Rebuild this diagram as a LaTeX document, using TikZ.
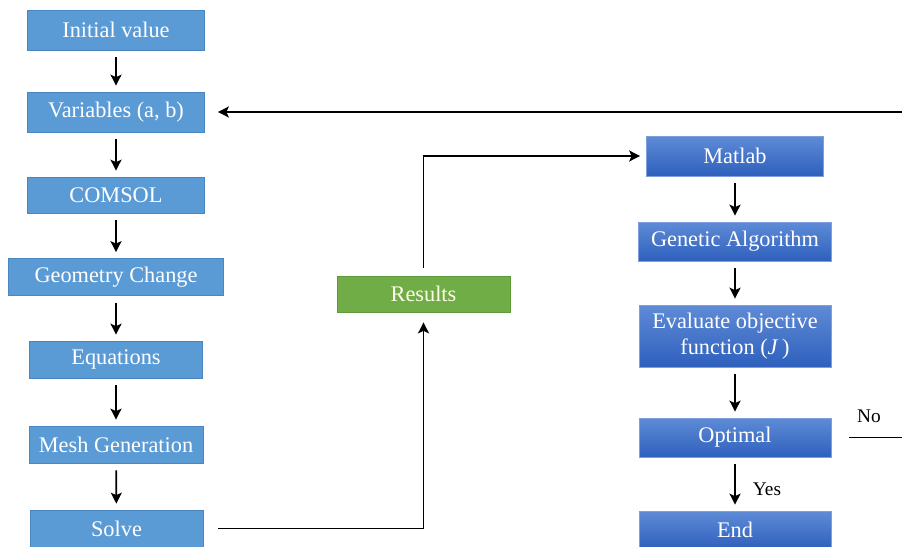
\documentclass[tikz,border=0pt]{standalone}
\usepackage{fontspec}
\setmainfont{Liberation Serif}
\usetikzlibrary{arrows.meta}
\definecolor{StepBlue}{HTML}{5B9BD5}
\definecolor{StepEdge}{HTML}{4A86C0}
\definecolor{OptTop}{HTML}{5F8BD6}
\definecolor{OptBot}{HTML}{2E60BD}
\definecolor{OptEdge}{HTML}{7D9FDC}
\definecolor{ResGreen}{HTML}{70AD47}
\definecolor{ResEdge}{HTML}{5F9A3A}

\begin{document}
\begin{tikzpicture}[font=\fontsize{12.7}{14.7}\selectfont,
  cbox/.style={draw=StepEdge, fill=StepBlue, text=white, inner sep=1pt,
               minimum width=35.4mm, minimum height=7.4mm, align=center},
  mbox/.style={draw=OptEdge, top color=OptTop, bottom color=OptBot,
               text=white, inner sep=1pt, minimum width=38.4mm,
               minimum height=7.8mm, align=center},
  rbox/.style={draw=ResEdge, fill=ResGreen, text=white!92!yellow,
               inner sep=1pt, minimum width=34.6mm, minimum height=7.2mm},
  arr/.style={-{Stealth[length=2.2mm, width=2.2mm, inset=0.5mm]},
              line width=1pt, shorten <=1.4mm, shorten >=1.2mm},
  lbl/.style={font=\fontsize{11}{13}\selectfont, text=black},
]
\clip (0,0) rectangle (18.04,-10.94);
\fill[white] (0,0) rectangle (18.04,-10.94);

%% ---- left: COMSOL model chain ----
\node[cbox, minimum height=8mm] (init) at (2.32,-0.60) {Initial value};
\node[cbox, minimum height=8mm] (vars) at (2.32,-2.24) {Variables (a, b)};
\node[cbox, minimum height=7.2mm] (comsol) at (2.32,-3.90) {COMSOL};
\node[cbox, minimum width=43mm] (geom) at (2.32,-5.54) {Geometry Change};
\node[cbox, minimum width=34.6mm] (eqs) at (2.32,-7.19) {Equations};
\node[cbox, minimum width=34.8mm] (mesh) at (2.32,-8.89) {Mesh Generation};
\node[cbox, minimum width=34.6mm] (solve) at (2.33,-10.57) {Solve};

%% ---- middle ----
\node[rbox] (res) at (8.47,-5.88) {Results};

%% ---- right: optimisation loop ----
\node[mbox, minimum width=35.4mm, minimum height=8mm] (matlab) at (14.70,-3.12) {Matlab};
\node[mbox, minimum width=38.6mm] (ga) at (14.70,-4.83) {Genetic Algorithm};
\node[mbox, minimum height=12.4mm] (eval) at (14.70,-6.72)
  {Evaluate objective\\function (\textit{J}\,)};
\node[mbox] (opt) at (14.70,-8.75) {Optimal};
\node[mbox, minimum height=7.6mm] (end) at (14.70,-10.60) {End};

\node[lbl] (no) at (17.38,-8.32) {No};
\node[lbl] (yes) at (15.34,-9.78) {Yes};

%% ---- connectors ----
\foreach \a/\b in {init/vars,vars/comsol,comsol/geom,geom/eqs,eqs/mesh,
                   mesh/solve,matlab/ga,ga/eval,eval/opt,opt/end}
  \draw[arr] (\a) -- (\b);
\draw[arr, shorten <=3mm, shorten >=2mm] (solve.east) -| (res.south);
\draw[arr, shorten <=1.6mm] (res.north) |- (matlab.west);
\draw[arr, shorten <=3.6mm, shorten >=2.6mm] (opt.east) -- ++(4,0) |- (vars.east);
\end{tikzpicture}
\end{document}
